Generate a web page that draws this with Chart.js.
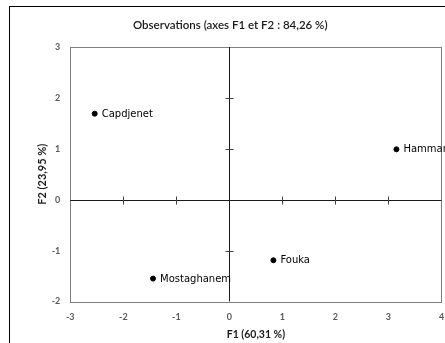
<!DOCTYPE html>
<html><head><meta charset="utf-8">
<style>html,body{margin:0;padding:0;background:#fff;overflow:hidden}</style>
<script src="https://cdn.jsdelivr.net/npm/chart.js@4/dist/chart.umd.min.js"></script>
</head><body>
<canvas id="c" width="445" height="343" style="display:block;width:445px;height:343px"></canvas>
<script>
// Data
const observations = ['Capdjenet', 'Hammam', 'Fouka', 'Mostaghanem'];
const f1Values = [-2.54, 3.15, 0.83, -1.44];
const f2Values = [1.69, 0.99, -1.19, -1.55];
const xTickValues = [-3, -2, -1, 0, 1, 2, 3, 4];
const yTickValues = [-2, -1, 0, 1, 2, 3];
const chartTitle = 'Observations (axes F1 et F2 : 84,26 %)';
const xTitle = 'F1 (60,31 %)';
const yTitle = 'F2 (23,95 %)';

const points = f1Values.map((x, i) => ({ x: x, y: f2Values[i] }));

const framePlugin = {
  id: 'frame',
  beforeDraw(chart) {
    const ctx = chart.ctx;
    ctx.save();
    ctx.fillStyle = '#fff';
    ctx.fillRect(0, 0, chart.width, chart.height);
    ctx.strokeStyle = '#000';
    ctx.lineWidth = 1;
    ctx.strokeRect(9.5, 6.5, chart.width + 20, chart.height + 20);
    ctx.restore();
  },
  beforeDatasetsDraw(chart) {
    const { ctx, chartArea: a, scales: { x, y } } = chart;
    ctx.save();
    // plot area border
    ctx.strokeStyle = '#7f7f7f';
    ctx.lineWidth = 1;
    ctx.strokeRect(Math.round(a.left) + 0.5, Math.round(a.top) + 0.5, Math.round(a.right - a.left), Math.round(a.bottom - a.top));
    // zero axes
    const x0 = Math.round(x.getPixelForValue(0)) + 0.5;
    const y0 = Math.round(y.getPixelForValue(0)) + 0.5;
    ctx.strokeStyle = '#1a1a1a';
    ctx.beginPath();
    ctx.moveTo(x0, a.top); ctx.lineTo(x0, a.bottom);
    ctx.moveTo(a.left, y0); ctx.lineTo(a.right, y0);
    ctx.stroke();
    // tick marks crossing the zero axes
    ctx.strokeStyle = '#404040';
    ctx.beginPath();
    xTickValues.forEach(v => {
      if (v === 0 || v === x.min || v === x.max) return;
      const px = Math.round(x.getPixelForValue(v)) + 0.5;
      ctx.moveTo(px, y0 - 4); ctx.lineTo(px, y0 + 4);
    });
    yTickValues.forEach(v => {
      if (v === 0 || v === y.min || v === y.max) return;
      const py = Math.round(y.getPixelForValue(v)) + 0.5;
      ctx.moveTo(x0 - 4, py); ctx.lineTo(x0 + 4, py);
    });
    ctx.stroke();
    ctx.restore();
  },
  afterDatasetsDraw(chart) {
    const ctx = chart.ctx;
    const meta = chart.getDatasetMeta(0);
    ctx.save();
    ctx.fillStyle = '#000';
    ctx.font = '10px "DejaVu Sans"';
    ctx.textBaseline = 'middle';
    ctx.textAlign = 'left';
    meta.data.forEach((el, i) => {
      ctx.fillText(observations[i], el.x + 7, el.y + 0.5);
    });
    ctx.restore();
  }
};

new Chart(document.getElementById('c'), {
  type: 'scatter',
  data: {
    datasets: [{
      label: 'Observations',
      data: points,
      backgroundColor: '#000',
      borderColor: '#000',
      pointRadius: 2.5,
      pointHoverRadius: 2.5
    }]
  },
  options: {
    responsive: false,
    animation: false,
    events: [],
    layout: { padding: { left: 18, right: 2.5, top: 0, bottom: 0 } },
    plugins: {
      legend: { display: false },
      tooltip: { enabled: false },
      title: {
        display: true,
        text: chartTitle,
        color: '#1a1a1a',
        font: { family: 'Lato', size: 11.5, weight: '600', lineHeight: 1.2 },
        padding: { top: 18.1, bottom: 15.1 }
      }
    },
    scales: {
      x: {
        type: 'linear',
        min: -3, max: 4,
        afterBuildTicks(s) { s.ticks = xTickValues.map(v => ({ value: v })); },
        afterFit(s) { s.height = 41.5; s.paddingLeft = 0; s.paddingRight = 0; },
        grid: { display: false, drawTicks: false },
        border: { display: false },
        ticks: { color: '#595959', font: { family: 'Lato', size: 9, weight: 'bold' }, padding: 10, maxRotation: 0, autoSkip: false },
        title: { display: true, text: xTitle, color: '#1a1a1a', font: { family: 'Lato', size: 10.5, weight: 'bold', lineHeight: 1.2 }, padding: { top: 0, bottom: 2.5 } }
      },
      y: {
        type: 'linear',
        min: -2, max: 3,
        afterBuildTicks(s) { s.ticks = yTickValues.map(v => ({ value: v })); },
        afterFit(s) { s.width = 52.3; s.paddingTop = 0; s.paddingBottom = 0; },
        grid: { display: false, drawTicks: false },
        border: { display: false },
        ticks: { color: '#595959', font: { family: 'Lato', size: 9, weight: 'bold' }, padding: 10, autoSkip: false },
        title: { display: true, text: yTitle, color: '#1a1a1a', font: { family: 'Lato', size: 11, weight: 'bold', lineHeight: 1.2 }, padding: { top: 17.4, bottom: 0 } }
      }
    }
  },
  plugins: [framePlugin]
});
</script>
</body></html>
